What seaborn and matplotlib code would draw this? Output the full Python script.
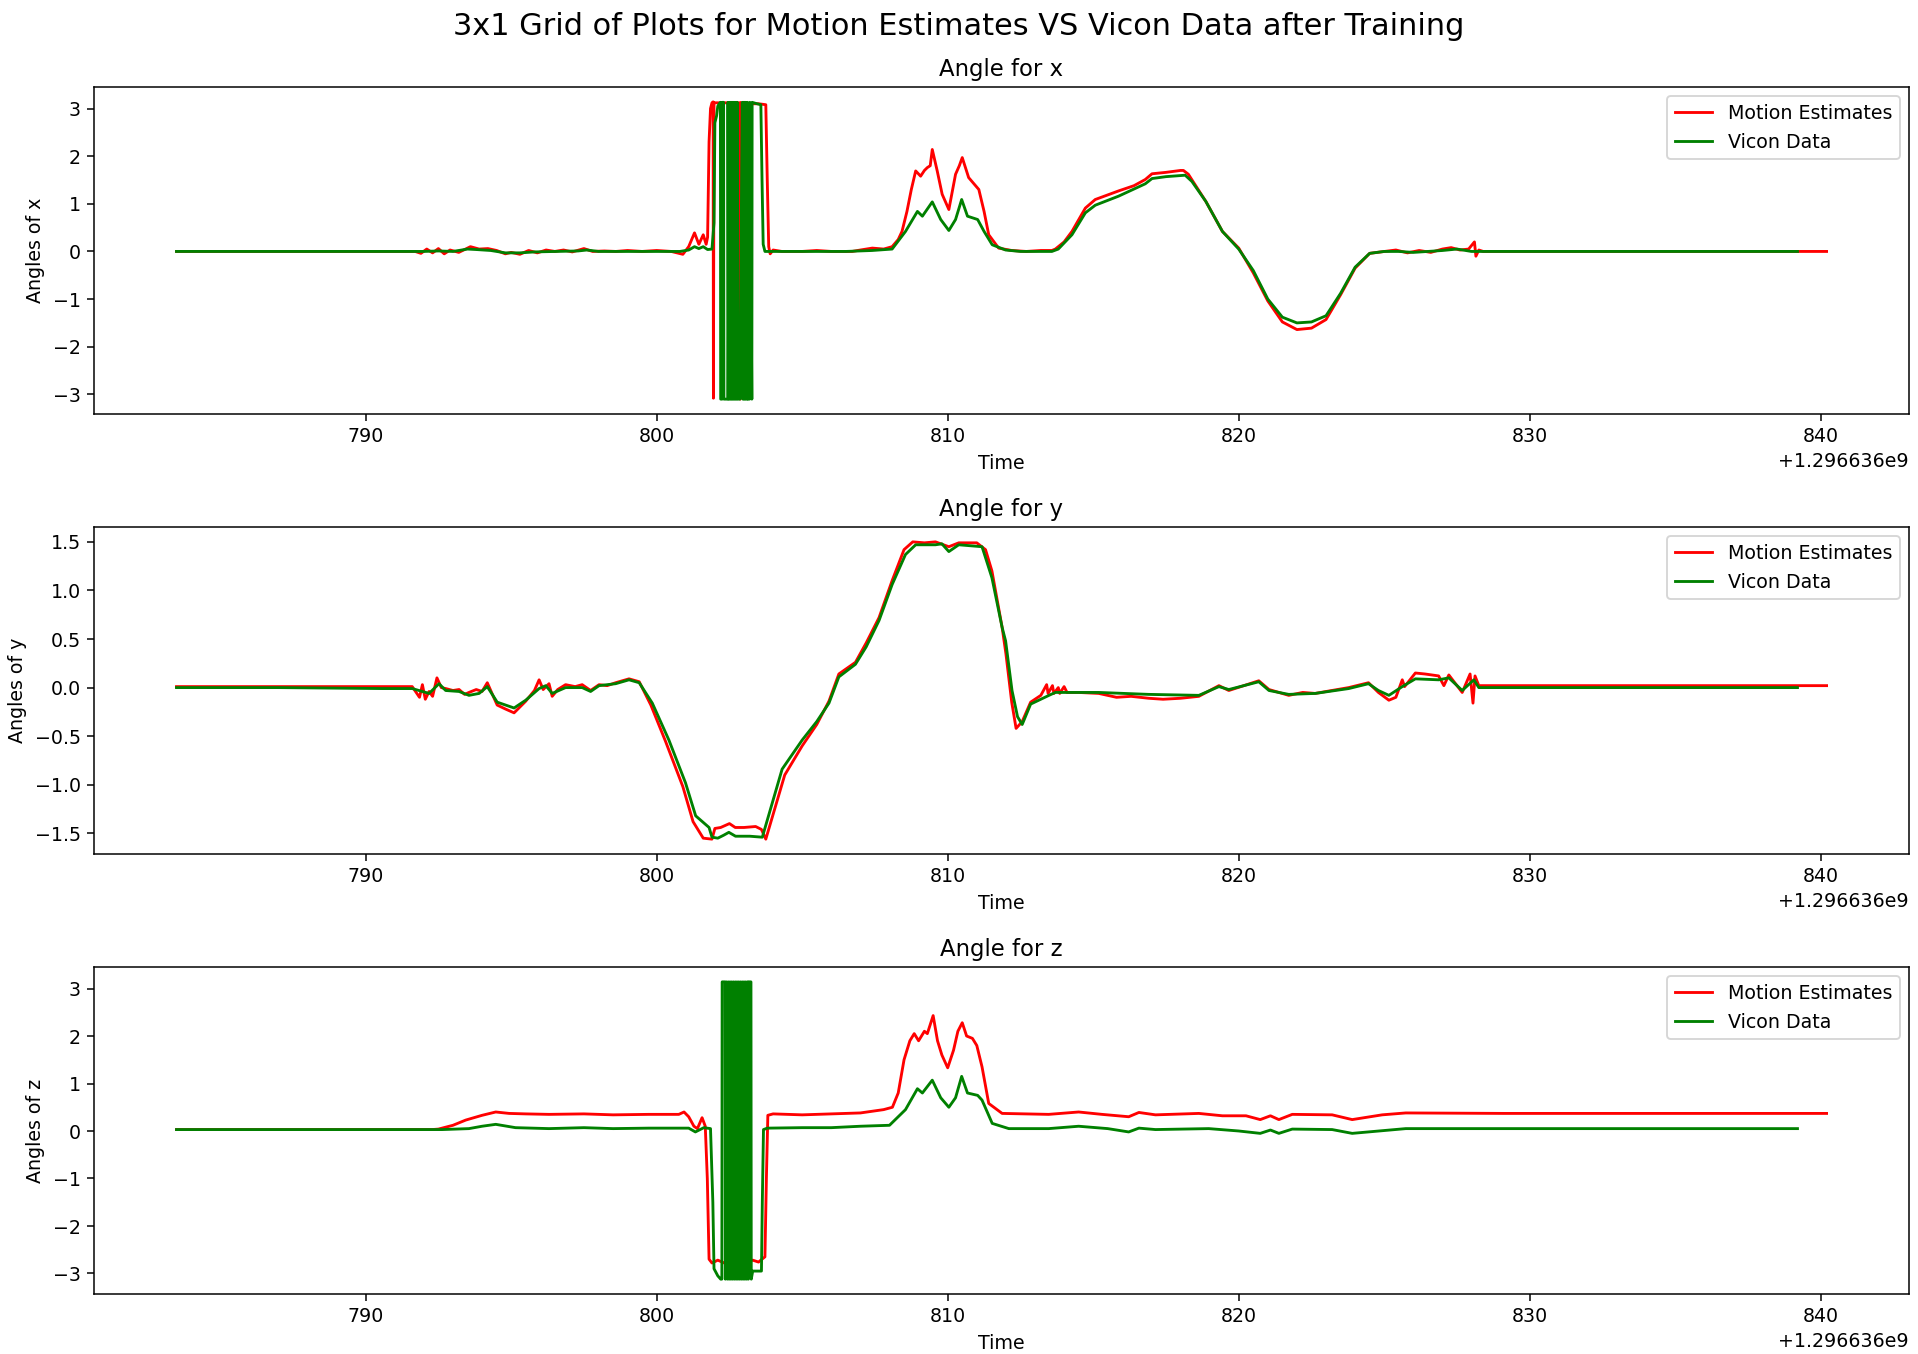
import numpy as np
import matplotlib
matplotlib.use("Agg")
import matplotlib.pyplot as plt
import seaborn as sns

T0 = 1296636000.0

# ---------------- X angle ----------------
t_x_motion = [783.5, 786, 789, 791.0, 791.7, 791.9, 792.1, 792.3, 792.5, 792.7, 792.9, 793.2, 793.6, 793.9,
              794.2, 794.5, 794.8, 795.0, 795.3, 795.6, 795.9, 796.2, 796.5, 796.8, 797.1, 797.5, 797.8, 798.2,
              798.6, 799.0, 799.5, 800.0, 800.5, 800.9, 801.1, 801.3, 801.45, 801.6, 801.7, 801.75, 801.8,
              801.85, 801.9, 801.94, 801.95, 801.97, 802.3, 802.6, 802.86, 802.87, 802.89, 803.2, 803.5,
              803.75, 803.8, 803.85, 803.9, 804.0, 804.3, 805.0, 805.5, 806.0, 806.72, 807.0, 807.41, 807.8,
              808.09, 808.3, 808.43, 808.6, 808.75, 808.9, 809.07, 809.2, 809.3, 809.4, 809.47, 809.64, 809.81,
              810.04, 810.27, 810.4, 810.5, 810.72, 810.9, 811.07, 811.25, 811.41, 811.75, 812.2, 812.7, 813.2,
              813.58, 813.7, 814.0, 814.27, 814.73, 815.07, 815.87, 816.4, 816.79, 817.02, 817.5, 818.0, 818.1,
              818.27, 818.87, 819.44, 820.0, 820.5, 821.0, 821.5, 822.0, 822.5, 823.0, 823.5, 824.0, 824.5,
              825.0, 825.4, 825.8, 826.2, 826.6, 827.0, 827.3, 827.6, 827.9, 828.1, 828.15, 828.25, 828.4,
              830, 835, 840.2]
x_motion = [0.0, 0.0, 0.0, 0.0, 0.0, -0.04, 0.05, -0.03, 0.06, -0.05, 0.03, -0.02, 0.1, 0.05,
            0.06, 0.02, -0.05, -0.02, -0.06, 0.02, -0.03, 0.03, 0.0, 0.03, -0.01, 0.06, 0.0, 0.01,
            0.0, 0.02, 0.0, 0.02, 0.0, -0.06, 0.1, 0.39, 0.15, 0.35, 0.15, 0.3, 2.3,
            3.0, 3.12, 3.14, -3.08, 3.12, 3.12, 3.12, 3.12, -3.1, 3.12, 3.1, 3.1,
            3.08, 1.5, 0.1, -0.05, 0.03, 0.0, 0.0, 0.02, 0.0, 0.0, 0.03, 0.07, 0.05,
            0.1, 0.25, 0.42, 0.84, 1.3, 1.69, 1.58, 1.7, 1.76, 1.8, 2.14, 1.69, 1.2,
            0.88, 1.62, 1.8, 1.97, 1.55, 1.42, 1.3, 0.84, 0.35, 0.07, 0.02, 0.0, 0.02,
            0.02, 0.05, 0.2, 0.42, 0.91, 1.09, 1.27, 1.38, 1.51, 1.63, 1.66, 1.70, 1.70,
            1.62, 1.05, 0.42, 0.07, -0.45, -1.04, -1.48, -1.64, -1.61, -1.43, -0.91, -0.35, -0.04,
            0.0, 0.03, -0.03, 0.02, -0.02, 0.05, 0.08, 0.03, 0.05, 0.2, -0.1, 0.03, 0.0,
            0.0, 0.0, 0.0]

t_x_vicon = [783.5, 786.0, 789.0, 791.0, 792.0, 792.5, 793.0, 793.5, 793.8, 794.3, 794.8, 795.3, 795.8,
             796.5, 797.3, 797.6, 798.0, 799.0, 800.0, 800.8, 801.1, 801.3, 801.45, 801.6, 801.75, 801.9,
             801.97, 802.0, 802.06, 802.1, 802.15, 802.19,
             802.20, 802.25, 802.26, 802.30, 802.31, 802.44, 802.45, 802.47, 802.49, 802.51, 802.53, 802.55,
             802.57, 802.59, 802.61, 802.63, 802.65, 802.67, 802.69, 802.71, 802.73, 802.75, 802.77, 802.79,
             802.86, 802.94, 802.96, 802.98, 803.00, 803.02, 803.04, 803.06, 803.08, 803.11, 803.12, 803.14,
             803.19, 803.20, 803.27, 803.28,
             803.45, 803.58, 803.62, 803.66, 803.72, 804.5, 805.5, 806.5, 807.4, 808.09, 808.55, 808.96,
             809.13, 809.47, 809.76, 810.04, 810.27, 810.48, 810.68, 811.03, 811.25, 811.53, 811.99, 812.5,
             813.58, 813.8, 814.27, 814.73, 815.07, 815.87, 816.79, 817.02, 817.5, 818.16, 818.39, 818.87,
             819.44, 820.0, 820.5, 821.0, 821.5, 822.0, 822.5, 823.0, 823.5, 824.0, 824.5, 825.0, 825.5,
             826.0, 826.5, 827.0, 827.5, 828.0, 828.3, 830, 835, 839.2]
x_vicon = [0.0, 0.0, 0.0, 0.0, 0.0, 0.01, 0.0, 0.05, 0.04, 0.02, -0.03, -0.03, -0.01,
           0.0, 0.01, 0.03, 0.0, 0.0, 0.0, 0.0, 0.03, 0.1, 0.06, 0.1, 0.04, 0.05,
           0.6, 2.7, 2.85, 3.05, 3.1, 3.13,
           -3.1, -3.1, 3.13, 3.13, -3.1, -3.1, 3.13, -3.1, 3.13, -3.1, 3.13, -3.1,
           3.13, -3.1, 3.13, -3.1, 3.13, -3.1, 3.13, -3.1, 3.13, -3.1, 3.13, -3.1,
           -3.1, 3.13, -3.1, 3.13, -3.1, 3.13, -3.1, 3.13, -3.1, -3.1, 3.13, -3.1,
           -3.1, 3.13, -3.1, 3.13,
           3.1, 3.08, 1.5, 0.15, 0.0, 0.0, 0.0, 0.0, 0.02, 0.05, 0.42, 0.84,
           0.74, 1.04, 0.67, 0.44, 0.67, 1.09, 0.74, 0.67, 0.42, 0.14, 0.03, 0.0,
           0.0, 0.05, 0.35, 0.81, 0.97, 1.16, 1.42, 1.53, 1.57, 1.60, 1.47, 1.05,
           0.42, 0.05, -0.40, -1.0, -1.38, -1.50, -1.48, -1.35, -0.88, -0.33, -0.04, 0.0, 0.0,
           -0.02, 0.0, 0.02, 0.05, 0.0, 0.0, 0.0, 0.0, 0.0]

# ---------------- Y angle ----------------
t_y_motion = [783.5, 787, 791.6, 791.85, 791.95, 792.05, 792.18, 792.3, 792.45, 792.6, 792.75, 793.0, 793.21,
              793.4, 793.55, 793.8, 794.0, 794.18, 794.4, 794.52, 794.8, 795.1, 795.3, 795.5, 795.8, 795.96,
              796.1, 796.3, 796.41, 796.6, 796.87, 797.2, 797.44, 797.73, 798.02, 798.3, 798.59, 799.05,
              799.4, 799.8, 800.3, 800.9, 801.25, 801.6, 801.9, 802.0, 802.2, 802.5, 802.7, 803.0, 803.4,
              803.6, 803.75, 804.4, 805.0, 805.5, 805.92, 806.26, 806.83, 807.2, 807.64, 808.09, 808.5,
              808.8, 809.2, 809.58, 810.04, 810.38, 811.0, 811.3, 811.52, 811.87, 812.0, 812.2, 812.35,
              812.56, 812.85, 813.2, 813.4, 813.45, 813.6, 813.65, 813.8, 813.85, 814.0, 814.1, 814.5,
              815.19, 815.8, 816.3, 816.91, 817.4, 818.0, 818.63, 819.32, 819.66, 820.69, 821.04, 821.72,
              822.2, 822.63, 823.2, 823.78, 824.46, 824.8, 825.16, 825.4, 825.62, 825.7, 826.07, 826.4,
              826.87, 827.05, 827.22, 827.68, 827.95, 828.05, 828.12, 828.25, 830, 835, 840.2]
y_motion = [0.01, 0.01, 0.01, -0.1, 0.03, -0.12, -0.04, -0.09, 0.1, 0.0, -0.01, -0.03, -0.02,
            -0.07, -0.05, -0.02, -0.04, 0.05, -0.1, -0.18, -0.22, -0.26, -0.2, -0.14, -0.03, 0.08,
            -0.02, 0.04, -0.09, -0.02, 0.03, 0.01, 0.03, -0.03, 0.03, 0.02, 0.05, 0.09,
            0.06, -0.18, -0.55, -1.02, -1.38, -1.55, -1.56, -1.45, -1.44, -1.40, -1.44, -1.44, -1.43,
            -1.46, -1.56, -0.9, -0.6, -0.38, -0.14, 0.14, 0.26, 0.46, 0.72, 1.1, 1.42,
            1.50, 1.49, 1.50, 1.45, 1.49, 1.49, 1.42, 1.2, 0.62, 0.35, -0.15, -0.42,
            -0.35, -0.15, -0.08, 0.03, -0.06, 0.02, -0.06, 0.0, -0.06, 0.01, -0.05, -0.05,
            -0.06, -0.1, -0.09, -0.11, -0.12, -0.11, -0.09, 0.02, -0.03, 0.07, -0.02, -0.08,
            -0.05, -0.06, -0.03, 0.0, 0.05, -0.05, -0.13, -0.1, 0.08, 0.01, 0.15, 0.14,
            0.12, 0.02, 0.13, -0.05, 0.14, -0.16, 0.12, 0.02, 0.02, 0.02, 0.02]

t_y_vicon = [783.5, 787, 790.57, 791.6, 792.18, 792.52, 792.75, 793.21, 793.55, 793.9, 794.18, 794.52, 795.1,
             795.5, 795.96, 796.19, 796.41, 796.87, 797.44, 797.73, 798.02, 798.59, 799.05, 799.4, 799.85,
             800.42, 800.99, 801.34, 801.8, 801.9, 802.1, 802.3, 802.48, 802.71, 803.2, 803.63, 804.31,
             805.0, 805.5, 805.92, 806.26, 806.83, 807.2, 807.64, 808.09, 808.55, 808.9, 809.58, 809.8,
             810.04, 810.38, 811.18, 811.52, 811.87, 811.99, 812.21, 812.4, 812.56, 812.85, 813.48, 813.7,
             815.19, 816.91, 818.63, 819.32, 819.66, 820.69, 821.04, 821.72, 822.63, 823.78, 824.46, 824.8,
             825.16, 825.62, 826.07, 826.87, 827.22, 827.68, 828.08, 828.25, 830, 835, 839.2]
y_vicon = [0.0, 0.0, -0.01, -0.01, -0.06, 0.04, -0.03, -0.04, -0.08, -0.06, 0.01, -0.15, -0.21,
           -0.13, -0.01, 0.02, -0.06, 0.0, 0.0, -0.04, 0.02, 0.04, 0.08, 0.05, -0.16,
           -0.54, -0.98, -1.32, -1.44, -1.54, -1.55, -1.52, -1.49, -1.53, -1.53, -1.54, -0.84,
           -0.54, -0.35, -0.16, 0.11, 0.24, 0.42, 0.69, 1.06, 1.37, 1.47, 1.47, 1.48,
           1.40, 1.47, 1.45, 1.13, 0.62, 0.48, -0.03, -0.3, -0.38, -0.17, -0.08, -0.05,
           -0.05, -0.07, -0.08, 0.01, -0.02, 0.06, -0.03, -0.07, -0.06, -0.01, 0.04, -0.03,
           -0.08, 0.01, 0.09, 0.08, 0.1, -0.03, 0.08, 0.0, 0.0, 0.0, 0.0]

# ---------------- Z angle ----------------
t_z_motion = [783.5, 787, 790.57, 792.29, 792.5, 793.0, 793.44, 794.0, 794.47, 794.93, 795.5, 796.3, 797.5,
              798.5, 799.73, 800.76, 800.94, 801.1, 801.28, 801.4, 801.56, 801.67, 801.74, 801.8, 801.9,
              802.1, 802.4, 802.7, 803.0, 803.3, 803.5, 803.72, 803.77, 803.82, 804.0, 805.0, 806.0, 807.0,
              807.8, 808.1, 808.3, 808.5, 808.7, 808.85, 809.0, 809.2, 809.3, 809.5, 809.65, 809.8, 810.0,
              810.2, 810.35, 810.5, 810.65, 810.85, 811.0, 811.18, 811.41, 811.87, 813.47, 814.5, 815.3,
              816.22, 816.57, 817.14, 818.63, 819.44, 820.25, 820.74, 821.09, 821.38, 821.84, 823.21, 823.9,
              824.93, 825.74, 829.1, 835, 840.2]
z_motion = [0.03, 0.03, 0.03, 0.03, 0.04, 0.12, 0.23, 0.33, 0.40, 0.37, 0.36, 0.35, 0.36,
            0.34, 0.35, 0.35, 0.40, 0.3, 0.1, 0.05, 0.28, 0.1, -1.0, -2.7, -2.78,
            -2.72, -2.8, -2.75, -2.78, -2.72, -2.76, -2.65, -1.0, 0.33, 0.36, 0.34, 0.36, 0.38,
            0.45, 0.5, 0.8, 1.5, 1.9, 2.05, 1.9, 2.1, 2.05, 2.43, 1.9, 1.6, 1.33,
            1.7, 2.1, 2.28, 2.0, 1.95, 1.8, 1.35, 0.58, 0.37, 0.35, 0.40, 0.35,
            0.30, 0.39, 0.34, 0.37, 0.32, 0.32, 0.24, 0.32, 0.24, 0.35, 0.34, 0.24,
            0.34, 0.38, 0.37, 0.37, 0.37]

t_z_vicon = [783.5, 787, 790.57, 792.63, 793.55, 794.0, 794.47, 795.15, 796.3, 797.5, 798.5, 799.73, 801.1,
             801.33, 801.62, 801.85, 801.93, 801.97, 802.1,
             802.20, 802.24, 802.25, 802.35, 802.36, 802.40, 802.43, 802.46, 802.49, 802.52, 802.55, 802.58,
             802.61, 802.64, 802.67, 802.70, 802.73, 802.76, 802.79, 802.82, 802.85, 802.88, 802.91, 802.94,
             802.97, 803.00, 803.03, 803.06, 803.09, 803.12, 803.15, 803.16, 803.24, 803.25,
             803.3, 803.6, 803.63, 803.67, 803.8, 805, 806, 807, 808.0, 808.55, 808.96, 809.13, 809.47,
             809.76, 810.04, 810.27, 810.48, 810.68, 811.03, 811.18, 811.53, 812.1, 813.47, 814.5, 815.5,
             816.22, 816.57, 817.14, 818.97, 820.0, 820.74, 821.09, 821.38, 821.84, 823.21, 823.9, 825.74,
             829.1, 835, 839.2]
z_vicon = [0.03, 0.03, 0.03, 0.03, 0.05, 0.1, 0.14, 0.07, 0.05, 0.07, 0.05, 0.06, 0.06,
           -0.02, 0.07, 0.05, -1.5, -2.9, -3.05,
           -3.12, -3.12, 3.14, 3.14, -3.12, 3.14, -3.12, 3.14, -3.12, 3.14, -3.12, 3.14,
           -3.12, 3.14, -3.12, 3.14, -3.12, 3.14, -3.12, 3.14, -3.12, 3.14, -3.12, 3.14,
           -3.12, 3.14, -3.12, 3.14, -3.12, 3.14, -3.12, 3.14, 3.14, -3.12,
           -2.95, -2.95, -1.5, 0.03, 0.06, 0.07, 0.07, 0.1, 0.12, 0.45, 0.89, 0.8, 1.07,
           0.7, 0.5, 0.7, 1.15, 0.8, 0.75, 0.65, 0.16, 0.05, 0.05, 0.1, 0.05,
           -0.02, 0.06, 0.03, 0.05, 0.0, -0.05, 0.02, -0.05, 0.04, 0.03, -0.05, 0.05,
           0.05, 0.05, 0.05]

series = [
    ("x", t_x_motion, x_motion, t_x_vicon, x_vicon),
    ("y", t_y_motion, y_motion, t_y_vicon, y_vicon),
    ("z", t_z_motion, z_motion, t_z_vicon, z_vicon),
]

DPI = 136.5
fig, axes = plt.subplots(3, 1, figsize=(14.052, 9.92), dpi=DPI)
fig.subplots_adjust(left=0.049, right=0.9953, top=0.9357, bottom=0.0443, hspace=0.3456)

for ax, (name, tm, vm, tv, vv) in zip(axes, series):
    sns.lineplot(x=T0 + np.asarray(tm), y=np.asarray(vm), ax=ax, color="red",
                 label="Motion Estimates", estimator=None, sort=False, linewidth=1.5)
    sns.lineplot(x=T0 + np.asarray(tv), y=np.asarray(vv), ax=ax, color="green",
                 label="Vicon Data", estimator=None, sort=False, linewidth=1.5)
    ax.set_title(f"Angle for {name}")
    ax.set_xlabel("Time")
    ax.set_ylabel(f"Angles of {name}")
    ax.legend(loc="upper right")

fig.suptitle("3x1 Grid of Plots for Motion Estimates VS Vicon Data after Training",
             fontsize=16, y=0.991)
fig.savefig("out.png", dpi=DPI)
